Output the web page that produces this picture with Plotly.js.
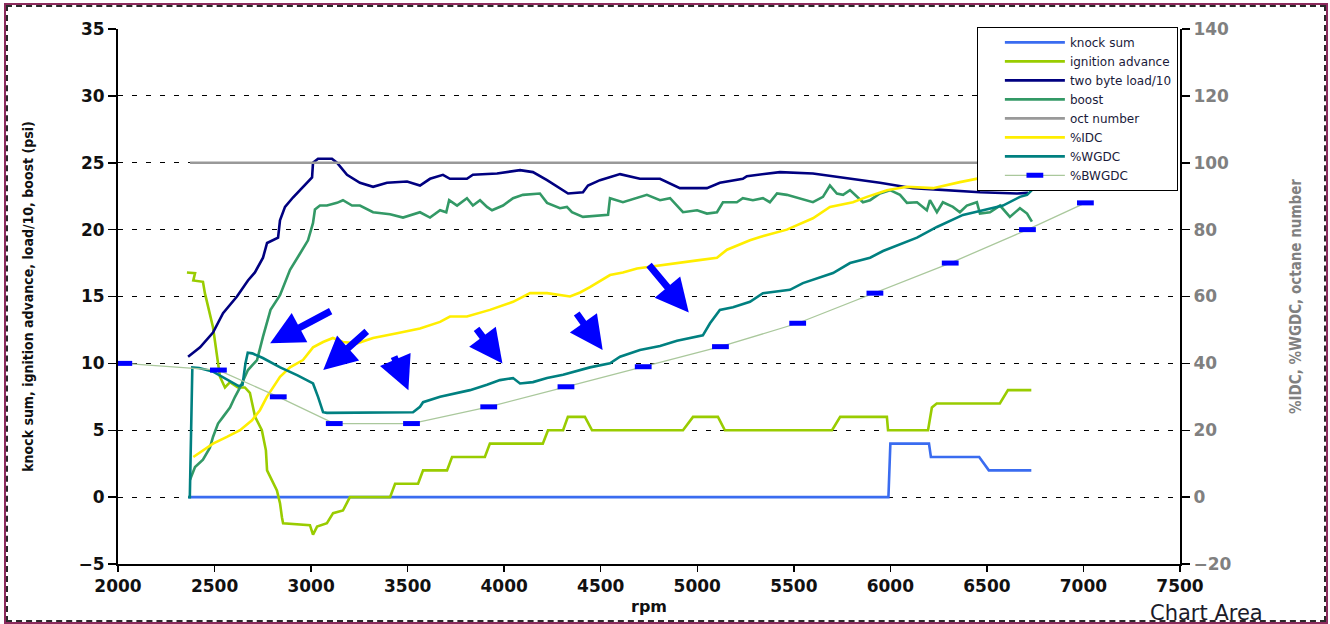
<!DOCTYPE html>
<html>
<head>
<meta charset="utf-8">
<script src="https://cdn.plot.ly/plotly-3.0.1.min.js"></script>
<style>
  html, body { margin: 0; padding: 0; background: #fff; }
  #wrap { position: relative; width: 1330px; height: 624px; overflow: hidden; }
  #chart { width: 1330px; height: 624px; }
  .frame1 { position: absolute; left: 4px; top: 3px; width: 1320px; height: 617px; border: 2px solid #8b2a5c; pointer-events: none; }
  .frame2 { position: absolute; left: 6px; top: 5px; width: 1316px; height: 613px; border: 2px dashed #2a2a2a; pointer-events: none; }
</style>
</head>
<body>
<div id="wrap">
  <div id="chart"></div>
  <div class="frame1"></div>
  <div class="frame2"></div>
</div>
<script>
// ---------- data ----------
const knockRpm = [2365, 5990, 6000, 6200, 6210, 6460, 6510, 6730];
const knockSum = [0, 0, 4, 4, 3, 3, 2, 2];

const ignRpm = [2357,2399,2390,2440,2450,2492,2528,2554,2580,2621,2657,2683,2710,2745,2766,2772,2823,2839,2849,2855,2994,3010,3031,3082,3114,3165,3201,3409,3435,3554,3580,3704,3730,3900,3926,4200,4227,4305,4330,4418,4455,4926,4978,5107,5143,5698,5740,5982,5988,6195,6215,6240,6567,6609,6730];
const ignAdv = [16.8,16.75,16.2,16.1,15.25,12.7,9.0,8.2,8.6,8.2,8.2,7.8,6.0,5.0,3.5,2.0,0.5,-0.45,-1.5,-1.95,-2.1,-2.8,-2.2,-1.95,-1.2,-1.0,0,0,1,1,2,2,3,3,4,4,5,5,6,6,5,5,6,6,5,5,6,6,5,5,6.7,7,7,8,8];

const loadRpm = [2363,2425,2492,2544,2616,2673,2709,2751,2772,2829,2839,2865,2906,2958,3005,3010,3036,3108,3134,3186,3253,3321,3393,3497,3564,3616,3683,3719,3807,3838,3963,4082,4149,4222,4331,4408,4434,4496,4600,4703,4807,4910,5050,5117,5236,5257,5361,5428,5599,5775,5946,6117,6293,6464,6656,6713];
const load10 = [10.5,11.2,12.3,13.75,15.0,16.2,16.8,17.9,19.0,19.4,20.7,21.7,22.4,23.2,23.9,25.0,25.3,25.3,25.0,24.1,23.5,23.2,23.5,23.6,23.3,23.8,24.1,23.8,23.8,24.1,24.2,24.45,24.3,23.7,22.7,22.8,23.3,23.7,24.15,23.8,23.8,23.1,23.1,23.5,23.8,24.0,24.15,24.3,24.2,23.85,23.5,23.1,22.95,22.8,22.7,22.75];

const boostRpm = [2373,2399,2440,2476,2492,2518,2544,2580,2606,2632,2673,2720,2751,2790,2839,2891,2942,2984,3010,3020,3046,3082,3134,3165,3212,3253,3321,3409,3476,3564,3616,3668,3700,3715,3756,3807,3838,3875,3911,3937,3994,4046,4097,4185,4222,4289,4325,4351,4408,4444,4538,4548,4615,4739,4807,4859,4895,4926,4999,5050,5102,5133,5205,5236,5288,5340,5376,5413,5464,5532,5599,5651,5687,5723,5755,5791,5827,5858,5895,5946,5998,6050,6086,6138,6189,6205,6241,6272,6324,6360,6396,6448,6464,6516,6568,6619,6671,6708,6733];
const boostPsi = [1.3,2.25,2.8,3.7,4.5,5.5,6.0,6.7,7.5,8.2,9.5,10.25,12.0,14.0,15.1,17.0,18.2,19.2,20.5,21.5,21.8,21.8,22.0,22.2,21.8,21.8,21.3,21.15,20.9,21.3,20.9,21.45,21.3,22.2,21.8,22.35,21.8,22.2,21.7,21.45,21.8,22.35,22.6,22.7,22.0,21.6,21.7,21.3,20.95,21.0,21.1,22.35,22.05,22.6,22.2,22.35,21.8,21.3,21.45,21.2,21.3,22.05,22.05,22.35,22.2,22.35,22.05,22.7,22.6,22.35,22.05,22.45,23.3,22.7,22.6,22.95,22.45,22.05,22.2,22.7,22.95,22.6,22.0,22.05,21.45,22.2,21.3,22.05,21.7,21.3,21.8,22.05,21.2,21.3,21.8,20.95,21.6,21.2,20.6];

const octRpm = [2373, 6725];
const octNumber = [100, 100];

const idcRpm = [2390,2440,2492,2564,2632,2694,2735,2771,2803,2839,2891,2958,3010,3062,3113,3165,3238,3321,3445,3564,3668,3719,3807,3926,4046,4134,4222,4305,4341,4393,4444,4548,4615,4688,4800,4895,5000,5102,5133,5154,5273,5325,5464,5599,5687,5806,5879,5982,6086,6221,6360,6464,6552,6619,6687,6733];
const idcPct = [12,14,16,18,20,23,26,30,32.8,36,38.8,41,44.8,46.4,47.6,46.4,46,47.6,49,50.4,52.4,54,54,56,58.4,61,61,60.4,60,61.2,62.8,66.4,67.2,68.4,69.2,70,70.8,71.6,73.2,74,76.8,77.8,80,83.4,86.8,88.2,89.8,91.8,92.8,92.4,94.2,95.4,95.6,94.2,95.6,95.4];

const wgdcRpm = [2363,2372,2385,2420,2490,2560,2625,2645,2660,2672,2695,2750,2840,2930,2979,3010,3036,3062,3082,3445,3528,3564,3580,3668,3756,3823,3911,3978,4046,4082,4149,4222,4305,4393,4444,4548,4600,4703,4807,4895,5029,5066,5117,5185,5273,5340,5480,5547,5703,5791,5895,5962,6066,6138,6241,6376,6480,6583,6671,6708,6733];
const wgdcPct = [0,0,38.8,38.6,37.6,35.2,33.2,33.6,40,43.2,43,41.6,38.8,36.4,35,34,30,25.4,25.2,25.2,25.4,27,28.4,30,31.2,32,33.6,35,35.6,34,34.4,35.6,36.6,38,38.8,40,42,44,45.2,46.8,48.4,52,56,56.8,58.4,61,62,64,67,70,71.6,73.6,76,77.6,80.8,84.4,85.8,87.2,89.8,90.4,91.8];

const bwgdcRpm = [2030,2520,2830,3120,3520,3920,4320,4720,5120,5520,5920,6310,6710,7010];
const bwgdcPct = [40,38,30,22,22,27,33,39,45,52,61,70,80,88];

// blue block-arrow call-outs drawn on the picture: [rpm tip, value tip, tail dx px, tail dy px]
const arrowNotes = [
  [2788, 11.5, 62, -33],
  [3063, 9.5, 45, -40],
  [3504, 8.0, -15, -35],
  [3991, 10.0, -27, -36],
  [4510, 11.0, -27, -38],
  [4956, 13.8, -41, -49]
];

// ---------- chart ----------
const LW = 2.6;
const traces = [
  {name: 'knock sum', x: knockRpm, y: knockSum, mode: 'lines', line: {color: '#3a6cf0', width: LW}, yaxis: 'y'},
  {name: 'ignition advance', x: ignRpm, y: ignAdv, mode: 'lines', line: {color: '#99cc00', width: LW}, yaxis: 'y'},
  {name: 'two byte load/10', x: loadRpm, y: load10, mode: 'lines', line: {color: '#000080', width: LW}, yaxis: 'y'},
  {name: 'boost', x: boostRpm, y: boostPsi, mode: 'lines', line: {color: '#339966', width: LW}, yaxis: 'y'},
  {name: 'oct number', x: octRpm, y: octNumber, mode: 'lines', line: {color: '#999999', width: LW}, yaxis: 'y2'},
  {name: '%IDC', x: idcRpm, y: idcPct, mode: 'lines', line: {color: '#ffee00', width: LW}, yaxis: 'y2'},
  {name: '%WGDC', x: wgdcRpm, y: wgdcPct, mode: 'lines', line: {color: '#008080', width: LW}, yaxis: 'y2'},
  {name: '%BWGDC', x: bwgdcRpm, y: bwgdcPct, mode: 'lines+markers', line: {color: '#aac89c', width: 1.3},
   marker: {symbol: 'line-ew', size: 12, line: {width: 5, color: '#0000ff'}}, yaxis: 'y2'}
];

const tickFont = {family: 'DejaVu Sans, Liberation Sans, Arial', size: 17, color: '#111', weight: 'bold'};
const narrowBold = 'Liberation Sans Narrow, DejaVu Sans Condensed, Liberation Sans, Arial';

const annotations = arrowNotes.map(a => ({
  x: a[0], y: a[1], xref: 'x', yref: 'y', ax: a[2], ay: a[3],
  text: '', showarrow: true, arrowhead: 2, arrowsize: 0.95, arrowwidth: 7,
  arrowcolor: '#0000ff', standoff: 0
}));
annotations.push({
  xref: 'paper', yref: 'paper', x: 0.97, y: -0.092, xanchor: 'left', yanchor: 'middle',
  text: 'Chart Area', showarrow: false,
  font: {family: 'DejaVu Sans, Liberation Sans, Arial', size: 21, color: '#1a1a2a'}
});

const layout = {
  width: 1330, height: 624,
  margin: {l: 118, r: 150, t: 29, b: 60},
  paper_bgcolor: '#ffffff', plot_bgcolor: '#ffffff',
  showlegend: true,
  legend: {
    x: 0.998, y: 1.004, xanchor: 'right', yanchor: 'top',
    bgcolor: '#ffffff', bordercolor: '#000000', borderwidth: 1,
    font: {family: 'DejaVu Sans, Liberation Sans, Arial', size: 12, color: '#1a1a3a'},
    itemwidth: 60, indentation: 22, tracegroupgap: 0, traceorder: 'normal'
  },
  xaxis: {
    range: [2000, 7500], dtick: 500, tick0: 2000,
    showgrid: false, zeroline: false,
    showline: true, linecolor: '#000', linewidth: 2,
    ticks: 'outside', ticklen: 6, tickcolor: '#000', tickwidth: 1.5,
    tickfont: tickFont,
    title: {text: 'rpm', font: {family: 'DejaVu Sans, Liberation Sans, Arial', size: 16, color: '#111', weight: 'bold'}, standoff: 5}
  },
  yaxis: {
    range: [-5, 35], dtick: 5, tick0: 0,
    showgrid: true, gridcolor: '#000', gridwidth: 1, griddash: '5px,9px',
    zeroline: false,
    showline: true, linecolor: '#000', linewidth: 2,
    ticks: 'outside', ticklen: 8, tickcolor: '#000', tickwidth: 1.5,
    tickfont: tickFont,
    title: {text: 'knock sum, ignition advance, load/10, boost (psi)',
            font: {family: narrowBold, size: 14, color: '#111', weight: 'bold'}, standoff: 42}
  },
  yaxis2: {
    overlaying: 'y', side: 'right',
    range: [-20, 140], dtick: 20, tick0: 0,
    showgrid: false, zeroline: false,
    showline: true, linecolor: '#000', linewidth: 2,
    ticks: 'outside', ticklen: 8, tickcolor: '#000', tickwidth: 1.5,
    tickfont: Object.assign({}, tickFont, {color: '#808080'}),
    title: {text: '%IDC, %WGDC, octane number',
            font: {family: narrowBold, size: 15, color: '#808080', weight: 'bold'}, standoff: 60}
  },
  annotations: annotations
};

Plotly.newPlot('chart', traces, layout, {displayModeBar: false, staticPlot: true});
</script>
</body>
</html>
